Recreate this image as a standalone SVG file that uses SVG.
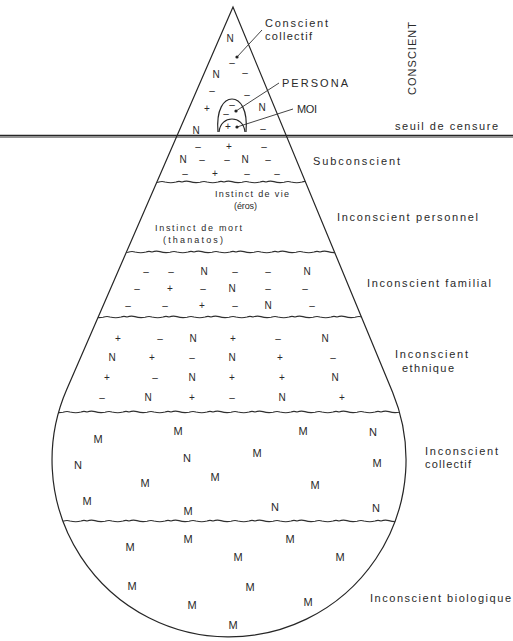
<svg xmlns="http://www.w3.org/2000/svg" width="513" height="641" viewBox="0 0 513 641">
<style>
.ln{fill:none;stroke:#262626;stroke-width:1.2}
.wv{fill:none;stroke:#303030;stroke-width:1.1}
.ld{fill:none;stroke:#303030;stroke-width:0.9}
.lb{font-family:"Liberation Sans",Arial,sans-serif;font-size:11px;fill:#2a2a2a}
.sm{font-family:"Liberation Sans",Arial,sans-serif;font-size:9px;fill:#2a2a2a}
.s{font-family:"Liberation Sans",Arial,sans-serif;font-size:10px;fill:#2a2a2a;text-anchor:middle}
.m{font-family:"Liberation Sans",Arial,sans-serif;font-size:11px;fill:#2a2a2a;text-anchor:middle}
.dot{fill:#222}
</style>
<defs>
<clipPath id="drop"><path d="M233,7 L66.7,389.4 A177,177 0 1,0 392.6,392.3 Z"/></clipPath>
</defs>
<rect width="513" height="641" fill="#fff"/>

<g id="outline">
<path class="ln" d="M233,7 L66.7,389.4 A177,177 0 1,0 392.6,392.3 Z"/>
</g>

<g id="seuil-line">
<line x1="0" y1="135.3" x2="513" y2="135.3" stroke="#262626" stroke-width="1.2"/>
<line x1="0" y1="137" x2="513" y2="137" stroke="#262626" stroke-width="1.1"/>
</g>

<g id="connectors">
<g clip-path="url(#drop)">
<path class="wv" d="M140,182 q4,-1.6 8,-0.4 q5,1.6 10,0.6 q4,-1.2 7,-0.2 q6,1.4 11,0 q3,-1.2 6,0 q4,-1.6 8,-0.4 q5,1.6 10,0.6 q4,-1.2 7,-0.2 q6,1.4 11,0 q3,-1.2 6,0 q4,-1.6 8,-0.4 q5,1.6 10,0.6 q4,-1.2 7,-0.2 q6,1.4 11,0 q3,-1.2 6,0 q4,-1.6 8,-0.4 q5,1.6 10,0.6 q4,-1.2 7,-0.2 q6,1.4 11,0 q3,-1.2 6,0 q4,-1.6 8,-0.4 q5,1.6 10,0.6 q4,-1.2 7,-0.2 q6,1.4 11,0 q3,-1.2 6,0"/>
<path class="wv" d="M110,252 q4,-1.6 8,-0.4 q5,1.6 10,0.6 q4,-1.2 7,-0.2 q6,1.4 11,0 q3,-1.2 6,0 q4,-1.6 8,-0.4 q5,1.6 10,0.6 q4,-1.2 7,-0.2 q6,1.4 11,0 q3,-1.2 6,0 q4,-1.6 8,-0.4 q5,1.6 10,0.6 q4,-1.2 7,-0.2 q6,1.4 11,0 q3,-1.2 6,0 q4,-1.6 8,-0.4 q5,1.6 10,0.6 q4,-1.2 7,-0.2 q6,1.4 11,0 q3,-1.2 6,0 q4,-1.6 8,-0.4 q5,1.6 10,0.6 q4,-1.2 7,-0.2 q6,1.4 11,0 q3,-1.2 6,0 q4,-1.6 8,-0.4 q5,1.6 10,0.6 q4,-1.2 7,-0.2 q6,1.4 11,0 q3,-1.2 6,0"/>
<path class="wv" d="M85,317 q4,-1.6 8,-0.4 q5,1.6 10,0.6 q4,-1.2 7,-0.2 q6,1.4 11,0 q3,-1.2 6,0 q4,-1.6 8,-0.4 q5,1.6 10,0.6 q4,-1.2 7,-0.2 q6,1.4 11,0 q3,-1.2 6,0 q4,-1.6 8,-0.4 q5,1.6 10,0.6 q4,-1.2 7,-0.2 q6,1.4 11,0 q3,-1.2 6,0 q4,-1.6 8,-0.4 q5,1.6 10,0.6 q4,-1.2 7,-0.2 q6,1.4 11,0 q3,-1.2 6,0 q4,-1.6 8,-0.4 q5,1.6 10,0.6 q4,-1.2 7,-0.2 q6,1.4 11,0 q3,-1.2 6,0 q4,-1.6 8,-0.4 q5,1.6 10,0.6 q4,-1.2 7,-0.2 q6,1.4 11,0 q3,-1.2 6,0 q4,-1.6 8,-0.4 q5,1.6 10,0.6 q4,-1.2 7,-0.2 q6,1.4 11,0 q3,-1.2 6,0"/>
<path class="wv" d="M45,412 q4,-1.6 8,-0.4 q5,1.6 10,0.6 q4,-1.2 7,-0.2 q6,1.4 11,0 q3,-1.2 6,0 q4,-1.6 8,-0.4 q5,1.6 10,0.6 q4,-1.2 7,-0.2 q6,1.4 11,0 q3,-1.2 6,0 q4,-1.6 8,-0.4 q5,1.6 10,0.6 q4,-1.2 7,-0.2 q6,1.4 11,0 q3,-1.2 6,0 q4,-1.6 8,-0.4 q5,1.6 10,0.6 q4,-1.2 7,-0.2 q6,1.4 11,0 q3,-1.2 6,0 q4,-1.6 8,-0.4 q5,1.6 10,0.6 q4,-1.2 7,-0.2 q6,1.4 11,0 q3,-1.2 6,0 q4,-1.6 8,-0.4 q5,1.6 10,0.6 q4,-1.2 7,-0.2 q6,1.4 11,0 q3,-1.2 6,0 q4,-1.6 8,-0.4 q5,1.6 10,0.6 q4,-1.2 7,-0.2 q6,1.4 11,0 q3,-1.2 6,0 q4,-1.6 8,-0.4 q5,1.6 10,0.6 q4,-1.2 7,-0.2 q6,1.4 11,0 q3,-1.2 6,0 q4,-1.6 8,-0.4 q5,1.6 10,0.6 q4,-1.2 7,-0.2 q6,1.4 11,0 q3,-1.2 6,0"/>
<path class="wv" d="M45,521 q4,-1.6 8,-0.4 q5,1.6 10,0.6 q4,-1.2 7,-0.2 q6,1.4 11,0 q3,-1.2 6,0 q4,-1.6 8,-0.4 q5,1.6 10,0.6 q4,-1.2 7,-0.2 q6,1.4 11,0 q3,-1.2 6,0 q4,-1.6 8,-0.4 q5,1.6 10,0.6 q4,-1.2 7,-0.2 q6,1.4 11,0 q3,-1.2 6,0 q4,-1.6 8,-0.4 q5,1.6 10,0.6 q4,-1.2 7,-0.2 q6,1.4 11,0 q3,-1.2 6,0 q4,-1.6 8,-0.4 q5,1.6 10,0.6 q4,-1.2 7,-0.2 q6,1.4 11,0 q3,-1.2 6,0 q4,-1.6 8,-0.4 q5,1.6 10,0.6 q4,-1.2 7,-0.2 q6,1.4 11,0 q3,-1.2 6,0 q4,-1.6 8,-0.4 q5,1.6 10,0.6 q4,-1.2 7,-0.2 q6,1.4 11,0 q3,-1.2 6,0 q4,-1.6 8,-0.4 q5,1.6 10,0.6 q4,-1.2 7,-0.2 q6,1.4 11,0 q3,-1.2 6,0 q4,-1.6 8,-0.4 q5,1.6 10,0.6 q4,-1.2 7,-0.2 q6,1.4 11,0 q3,-1.2 6,0"/>
</g>
<line class="ld" x1="262" y1="30" x2="237" y2="57"/>
<line class="ld" x1="279" y1="83" x2="236" y2="111"/>
<line class="ld" x1="293" y1="109" x2="237" y2="127"/>
<circle class="dot" cx="237" cy="57" r="1.6"/>
<circle class="dot" cx="236" cy="111" r="1.6"/>
<circle class="dot" cx="237" cy="127" r="1.6"/>
</g>

<g id="persona-moi">
<path class="ln" d="M218,132 C216,109 224,99 232,99 C240,99 248,109 246,132"/>
<path class="ln" d="M219,132 C220,123 226,119 232,119 C238,119 244,123 245,132"/>
<text class="s" x="232" y="108">–</text>
<text class="s" x="226" y="117">–</text>
<text class="s" x="228" y="130">+</text>
</g>

<g id="conscient-symbols">
<text class="s" x="230" y="41.5">N</text>
<text class="s" x="232" y="65.5">–</text>
<text class="s" x="216" y="77.5">N</text>
<text class="s" x="245" y="75.5">–</text>
<text class="s" x="212" y="93.5">–</text>
<text class="s" x="247" y="97.5">–</text>
<text class="s" x="207" y="111.5">+</text>
<text class="s" x="262" y="110.5">N</text>
<text class="s" x="196" y="133.5">N</text>
<text class="s" x="263" y="131.5">–</text>
</g>

<g id="subconscient-symbols">
<text class="s" x="198" y="149.5">–</text>
<text class="s" x="229" y="149.5">+</text>
<text class="s" x="264" y="149.5">–</text>
<text class="s" x="183" y="162.5">N</text>
<text class="s" x="202" y="162.5">–</text>
<text class="s" x="227" y="162.5">–</text>
<text class="s" x="245" y="162.5">N</text>
<text class="s" x="268" y="162.5">–</text>
<text class="s" x="185" y="176.5">–</text>
<text class="s" x="215" y="176.5">+</text>
<text class="s" x="247" y="176.5">–</text>
<text class="s" x="277" y="176.5">–</text>
</g>

<g id="familial-symbols">
<text class="s" x="146" y="274.5">–</text>
<text class="s" x="171" y="274.5">–</text>
<text class="s" x="204" y="274.5">N</text>
<text class="s" x="235" y="274.5">–</text>
<text class="s" x="268" y="274.5">–</text>
<text class="s" x="307" y="274.5">N</text>
<text class="s" x="137" y="291.5">–</text>
<text class="s" x="170" y="291.5">+</text>
<text class="s" x="203" y="291.5">–</text>
<text class="s" x="232" y="291.5">N</text>
<text class="s" x="268" y="291.5">–</text>
<text class="s" x="305" y="291.5">–</text>
<text class="s" x="128" y="308.5">–</text>
<text class="s" x="165" y="308.5">–</text>
<text class="s" x="202" y="308.5">+</text>
<text class="s" x="235" y="308.5">–</text>
<text class="s" x="268" y="308.5">N</text>
<text class="s" x="312" y="308.5">–</text>
</g>

<g id="ethnique-symbols">
<text class="s" x="118" y="341.5">+</text>
<text class="s" x="160" y="341.5">–</text>
<text class="s" x="193" y="341.5">N</text>
<text class="s" x="233" y="341.5">+</text>
<text class="s" x="278" y="341.5">–</text>
<text class="s" x="325" y="341.5">N</text>
<text class="s" x="112" y="360.5">N</text>
<text class="s" x="152" y="360.5">+</text>
<text class="s" x="192" y="360.5">–</text>
<text class="s" x="232" y="360.5">N</text>
<text class="s" x="280" y="360.5">+</text>
<text class="s" x="333" y="360.5">–</text>
<text class="s" x="107" y="380.5">+</text>
<text class="s" x="155" y="380.5">–</text>
<text class="s" x="192" y="380.5">N</text>
<text class="s" x="232" y="380.5">+</text>
<text class="s" x="282" y="380.5">+</text>
<text class="s" x="335" y="380.5">N</text>
<text class="s" x="102" y="400.5">–</text>
<text class="s" x="148" y="400.5">N</text>
<text class="s" x="192" y="400.5">+</text>
<text class="s" x="232" y="400.5">–</text>
<text class="s" x="282" y="400.5">N</text>
<text class="s" x="342" y="400.5">+</text>
</g>

<g id="collectif-symbols">
<text class="m" x="98" y="443">M</text>
<text class="m" x="178" y="435">M</text>
<text class="m" x="303" y="435">M</text>
<text class="m" x="373" y="436">N</text>
<text class="m" x="78" y="469">N</text>
<text class="m" x="187" y="462">N</text>
<text class="m" x="257" y="457">M</text>
<text class="m" x="377" y="467">M</text>
<text class="m" x="145" y="487">M</text>
<text class="m" x="215" y="481">M</text>
<text class="m" x="315" y="489">M</text>
<text class="m" x="87" y="505">M</text>
<text class="m" x="188" y="515">M</text>
<text class="m" x="275" y="511">N</text>
<text class="m" x="376" y="512">N</text>
</g>

<g id="biologique-symbols">
<text class="m" x="130" y="551">M</text>
<text class="m" x="188" y="543">M</text>
<text class="m" x="290" y="543">M</text>
<text class="m" x="238" y="561">M</text>
<text class="m" x="340" y="561">M</text>
<text class="m" x="132" y="590">M</text>
<text class="m" x="250" y="591">M</text>
<text class="m" x="192" y="609">M</text>
<text class="m" x="308" y="606">M</text>
<text class="m" x="233" y="629">M</text>
</g>

<g id="label-conscient-collectif">
<text class="lb" x="265" y="27" textLength="63" lengthAdjust="spacing">Conscient</text>
<text class="lb" x="265" y="40" textLength="47" lengthAdjust="spacing">collectif</text>
</g>
<g id="label-conscient">
<text class="lb" transform="translate(416,58.5) rotate(-90)" text-anchor="middle" font-size="12" textLength="73" lengthAdjust="spacing">CONSCIENT</text>
</g>
<g id="label-persona"><text class="lb" x="282" y="87" textLength="66" lengthAdjust="spacing">PERSONA</text></g>
<g id="label-moi"><text class="lb" x="297" y="113" textLength="20" lengthAdjust="spacing">MOI</text></g>
<g id="label-seuil"><text class="lb" x="395" y="130" textLength="103" lengthAdjust="spacing">seuil de censure</text></g>
<g id="label-subconscient"><text class="lb" x="313" y="165" textLength="87" lengthAdjust="spacing">Subconscient</text></g>
<g id="label-instinct-vie">
<text class="sm" x="215" y="197" textLength="74" lengthAdjust="spacing">Instinct de vie</text>
<text class="sm" x="234" y="209" textLength="23" lengthAdjust="spacing">(éros)</text>
</g>
<g id="label-instinct-mort">
<text class="sm" x="155" y="231" textLength="87" lengthAdjust="spacing">Instinct de mort</text>
<text class="sm" x="163" y="243" textLength="60" lengthAdjust="spacing">(thanatos)</text>
</g>
<g id="label-personnel"><text class="lb" x="337" y="221" textLength="141" lengthAdjust="spacing">Inconscient personnel</text></g>
<g id="label-familial"><text class="lb" x="367" y="287" textLength="124" lengthAdjust="spacing">Inconscient familial</text></g>
<g id="label-ethnique">
<text class="lb" x="395" y="358" textLength="73" lengthAdjust="spacing">Inconscient</text>
<text class="lb" x="402" y="372" textLength="52" lengthAdjust="spacing">ethnique</text>
</g>
<g id="label-collectif">
<text class="lb" x="425" y="455" textLength="73" lengthAdjust="spacing">Inconscient</text>
<text class="lb" x="425" y="468" textLength="46" lengthAdjust="spacing">collectif</text>
</g>
<g id="label-biologique"><text class="lb" x="370" y="602" textLength="141" lengthAdjust="spacing">Inconscient biologique</text></g>
</svg>
